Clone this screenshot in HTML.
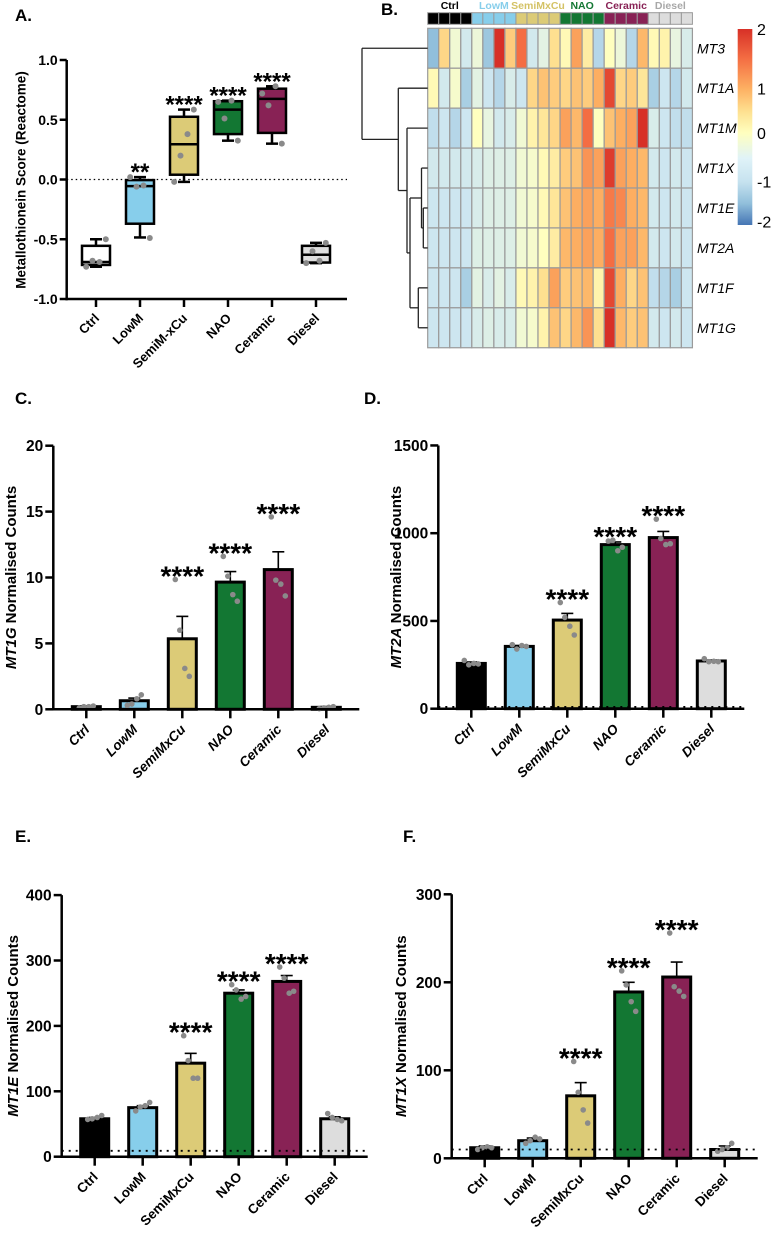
<!DOCTYPE html>
<html><head><meta charset="utf-8">
<style>
html,body{margin:0;padding:0;background:#fff;}
svg{display:block;font-family:"Liberation Sans",Arial,sans-serif;}
</style></head>
<body>
<svg id="fig" width="771" height="1238" viewBox="0 0 771 1238" xmlns="http://www.w3.org/2000/svg">
<defs>
<linearGradient id="cbar" x1="0" y1="0" x2="0" y2="1">
<stop offset="0%" stop-color="#d73027"/><stop offset="15%" stop-color="#f46d43"/><stop offset="30%" stop-color="#fdae61"/><stop offset="42%" stop-color="#fee090"/><stop offset="53%" stop-color="#ffffbf"/><stop offset="66%" stop-color="#e0f3f8"/><stop offset="78%" stop-color="#c6e2ef"/><stop offset="89%" stop-color="#91bfdb"/><stop offset="100%" stop-color="#4575b4"/>
</linearGradient>
</defs>
<g font-weight="bold" font-size="17">
<text x="15" y="21">A.</text>
<text x="381" y="15">B.</text>
<text x="15" y="404">C.</text>
<text x="364" y="404">D.</text>
<text x="15" y="842">E.</text>
<text x="403" y="842">F.</text>
</g>
</svg>
<script>
const groups = ['Ctrl','LowM','SemiMxCu','NAO','Ceramic','Diesel'];
const groupsA = ['Ctrl','LowM','SemiM-xCu','NAO','Ceramic','Diesel'];
const fills = ['#000000','#87ceeb','#dccb77','#137733','#882255','#dddddd'];
const fillsA = ['#ffffff','#87ceeb','#dccb77','#137733','#882255','#dddddd'];

// Panel A box data
const aTicks = [1.0, 0.5, 0.0, -0.5, -1.0];
const aTickLabels = ['1.0','0.5','0.0','-0.5','-1.0'];
const aMin = [-0.73, -0.485, -0.02, 0.325, 0.30, -0.70];
const aQ1 = [-0.715, -0.37, 0.04, 0.38, 0.39, -0.695];
const aMed = [-0.69, -0.055, 0.295, 0.585, 0.675, -0.63];
const aQ3 = [-0.555, -0.005, 0.525, 0.655, 0.76, -0.555];
const aMax = [-0.50, 0.02, 0.585, 0.66, 0.78, -0.53];
const aPoints = [[-0.73,-0.68,-0.69,-0.50],[0.02,-0.06,-0.05,-0.49],[-0.02,0.20,0.38,0.585],[0.65,0.51,0.66,0.325],[0.72,0.62,0.78,0.30],[-0.70,-0.60,-0.68,-0.53]];
const aStars = ['', '**', '****', '****', '****', ''];

// Heatmap
const genes = ['MT3','MT1A','MT1M','MT1X','MT1E','MT2A','MT1F','MT1G'];
const heat = [
[-1.5,0.6,-0.3,-0.9,-0.4,-1.4,2.0,0.7,1.5,-0.9,-0.6,0.5,0.1,1.1,0.3,-1.2,0.0,-0.4,-1.2,0.9,0.1,0.2,-0.5,-0.8],
[0.1,-0.9,-0.2,-1.3,-0.6,-1.0,-1.2,-0.8,-1.0,0.6,0.8,0.7,0.6,0.8,0.7,1.0,1.8,0.6,0.7,0.4,-1.3,-1.0,-1.2,-0.9],
[-1.1,-1.0,-1.2,-1.0,0.0,-0.5,-0.9,-0.8,-0.3,0.2,0.4,0.6,1.1,0.9,1.5,0.0,0.8,1.0,1.1,2.0,-0.8,-1.0,-1.1,-1.1],
[-0.9,-0.9,-0.9,-0.9,-0.8,-0.7,-0.7,-0.7,-0.3,-0.2,0.1,0.3,0.7,0.8,1.2,1.1,1.9,1.1,1.0,0.9,-0.9,-1.0,-0.9,-1.0],
[-1.0,-1.0,-1.0,-1.0,-0.8,-0.7,-0.7,-0.7,-0.3,-0.2,0.1,0.4,0.8,1.0,1.1,1.0,1.4,1.3,1.0,0.9,-0.9,-1.0,-0.9,-1.0],
[-1.0,-1.0,-1.0,-1.0,-0.7,-0.7,-0.7,-0.7,-0.3,-0.2,0.0,0.3,0.9,1.0,1.1,1.0,1.5,1.1,1.1,0.9,-0.9,-1.0,-0.9,-1.0],
[-1.0,-1.0,-1.0,-1.3,-0.6,-0.8,-0.6,-0.8,0.1,0.2,0.5,1.1,0.7,0.8,0.9,0.2,1.8,1.0,0.6,0.8,-1.1,-1.2,-1.3,-1.0],
[-1.0,-1.0,-1.0,-1.0,-0.8,-0.7,-0.8,-0.8,-0.3,-0.2,0.2,0.8,0.6,0.9,1.2,0.5,2.0,0.9,0.7,0.8,-0.9,-1.0,-0.9,-1.0]];
const groupLabelColors = ['#000000','#87ceeb','#d4c265','#137733','#882255','#a8a8a8'];
const cbarLabels = ['2','1','0','-1','-2'];

// Bar panels
const cMeans = [0.2, 0.65, 5.35, 9.65, 10.6, 0.15];
const cSem = [0.05, 0.2, 1.7, 0.8, 1.35, 0.05];
const cPoints = [[0.1,0.2,0.2,0.25],[0.3,0.4,0.8,1.1],[9.85,6.0,3.1,2.5],[11.6,10.1,8.7,8.2],[14.6,9.8,9.5,8.6],[0.05,0.1,0.15,0.2]];
const cTicks = [0,5,10,15,20];
const dMeans = [258, 355, 505, 935, 975, 272];
const dSem = [8, 5, 38, 15, 35, 5];
const dPoints = [[275,250,258,255],[365,340,360,355],[605,520,470,420],[955,960,900,920],[1080,970,935,940],[285,268,270,268]];
const dTicks = [0,500,1000,1500];
const eMeans = [58, 75, 143, 250, 268, 58];
const eSem = [2, 3, 15, 5, 9, 3];
const ePoints = [[57,58,60,63],[70,76,78,83],[185,147,120,120],[263,255,241,245],[290,273,250,253],[66,60,57,55]];
const eTicks = [0,100,200,300,400];
const fMeans = [12, 20, 71, 189, 206, 10];
const fSem = [2, 3, 15, 11, 17, 4];
const fPoints = [[10,12,13,12],[17,20,24,22],[110,75,55,40],[213,197,178,167],[256,195,190,184],[8,10,12,17]];
const fTicks = [0,100,200,300];
const starsBar = [false,false,true,true,true,false];

const svg = document.getElementById('fig');
const NS = 'http://www.w3.org/2000/svg';
function mk(tag, attrs, parent){
  const el = document.createElementNS(NS, tag);
  for (const k in attrs) el.setAttribute(k, attrs[k]);
  (parent||svg).appendChild(el);
  return el;
}
const jit = [-7,-2.5,2.5,7];

/* ---------- Panel A ---------- */
(function(){
  const ax = 66.7, yTop = 60, yBot = 299, xEnd = 347;
  const y = v => yTop + (1 - v) / 2 * (yBot - yTop);
  const xc = i => 96 + 44 * i;
  const g = mk('g', {});
  
  
  let l = mk('line', {x1: ax, x2: xEnd, y1: y(0), y2: y(0), stroke: '#000', 'stroke-width': 1.3, 'stroke-dasharray': '1.5 3'}, g);
  
  
  for (let i = 0; i < 6; i++) {
    const cx = xc(i), w = 28;
    const wt = mk('line', {x1: cx, x2: cx, y1: y(aMax[i]), y2: y(aMin[i]), stroke: '#000', 'stroke-width': 2.5}, g);
    
    
    [aMax[i], aMin[i]].forEach(v => {
      const c = mk('line', {x1: cx - 6, x2: cx + 6, y1: y(v), y2: y(v), stroke: '#000', 'stroke-width': 2.5}, g);
      
      
    });
    const b = mk('rect', {x: cx - w/2, y: y(aQ3[i]), width: w, height: y(aQ1[i]) - y(aQ3[i]), fill: fillsA[i], stroke: '#000', 'stroke-width': 2.5}, g);
    
    
    const m = mk('line', {x1: cx - w/2, x2: cx + w/2, y1: y(aMed[i]), y2: y(aMed[i]), stroke: '#000', 'stroke-width': 2.5}, g);
    
    
    aPoints[i].forEach((v, k) => {
      const p = mk('circle', {cx: cx + jit[k] * 1.4, cy: y(v), r: 3, fill: '#8a8a8a'}, g);
      
      
    });
    if (aStars[i]) {
      const s = mk('text', {x: cx, y: y(aMax[i]) + 3, 'text-anchor': 'middle', 'font-size': 24, 'font-weight': 'bold'}, g);
      s.textContent = aStars[i];
      
      
    }
    const tk = mk('line', {x1: cx, x2: cx, y1: yBot, y2: yBot + 8, stroke: '#000', 'stroke-width': 2.5}, g);
    
    
    const lb = mk('text', {x: cx + 4, y: yBot + 20, 'text-anchor': 'end', 'font-size': 13, 'font-weight': 'bold', transform: `rotate(-45 ${cx + 4} ${yBot + 20})`}, g);
    lb.textContent = groupsA[i];
    
    
  }
  const ya = mk('line', {x1: ax, x2: ax, y1: yTop, y2: yBot + 1.2, stroke: '#000', 'stroke-width': 2.5}, g);
  
  
  const xa = mk('line', {x1: ax - 1.2, x2: xEnd, y1: yBot, y2: yBot, stroke: '#000', 'stroke-width': 2.5}, g);
  
  
  aTicks.forEach((v, k) => {
    const t = mk('line', {x1: ax - 7, x2: ax, y1: y(v), y2: y(v), stroke: '#000', 'stroke-width': 2.5}, g);
    
    
    const tl = mk('text', {x: ax - 9, y: y(v) + 5, 'text-anchor': 'end', 'font-size': 14, 'font-weight': 'bold'}, g);
    tl.textContent = aTickLabels[k];
    
    
  });
  const tt = mk('text', {x: 22, y: 180, 'text-anchor': 'middle', 'font-size': 13.5, 'font-weight': 'bold', 'dominant-baseline': 'middle', transform: 'rotate(-90 22 180)'}, g);
  tt.textContent = 'Metallothionein Score (Reactome)';
  
  
})();

/* ---------- Panel B heatmap ---------- */
(function(){
  const x0 = 427.7, cw = 11.03, y0 = 28.3, rh = 39.93;
  const stops = [[-2,[69,117,180]],[-1.5,[145,191,219]],[-1,[205,230,240]],[-0.5,[232,245,224]],[0,[255,255,191]],[0.5,[254,224,144]],[1,[253,174,97]],[1.5,[244,109,67]],[2,[215,48,39]]];
  function col(v){
    v = Math.max(-2, Math.min(2, v));
    for (let k = 0; k < stops.length - 1; k++) {
      const a = stops[k], b = stops[k+1];
      if (v <= b[0]) {
        const t = (v - a[0]) / (b[0] - a[0]);
        return 'rgb(' + a[1].map((c, j) => Math.round(c + t * (b[1][j] - c))).join(',') + ')';
      }
    }
    return 'rgb(215,48,39)';
  }
  const g = mk('g', {});
  
  
  for (let c = 0; c < 24; c++) {
    const gi = Math.floor(c / 4);
    const r = mk('rect', {x: x0 + c * cw, y: 12.7, width: cw, height: 11.6, fill: fills[gi], stroke: '#999', 'stroke-width': 1}, g);
    
    
  }
  groups.forEach((gn, gi) => {
    const t = mk('text', {x: x0 + (4 * gi + 2) * cw, y: 9, 'text-anchor': 'middle', 'font-size': 10.5, 'font-weight': 'bold', fill: groupLabelColors[gi]}, g);
    t.textContent = gn;
    
    
  });
  heat.forEach((row, ri) => {
    row.forEach((v, c) => {
      const r = mk('rect', {x: x0 + c * cw, y: y0 + ri * rh, width: cw, height: rh, fill: col(v), stroke: '#9a9a9a', 'stroke-width': 1.2}, g);
      
      
    });
    const t = mk('text', {x: 697, y: y0 + ri * rh + rh / 2 + 5, 'font-size': 14, 'font-style': 'italic'}, g);
    t.textContent = genes[ri];
    
    
  });
  const ly = i => y0 + i * rh + rh / 2;
  function seg(x1, y1, x2, y2){
    const l = mk('line', {x1, y1, x2, y2, stroke: '#222', 'stroke-width': 1.3}, g);
    
    
  }
  function join(x, ya, xa, yb, xb){ seg(x, ya, x, yb); seg(x, ya, xa, ya); seg(x, yb, xb, yb); return (ya + yb) / 2; }
  const e2a = join(423.3, ly(4), x0, ly(5), x0);
  const xe = join(421.5, ly(3), x0, e2a, 423.3);
  const fg = join(418.3, ly(6), x0, ly(7), x0);
  const lower = join(410, xe, 421.5, fg, 418.3);
  const m = join(407, ly(2), x0, lower, 410);
  const a = join(398.3, ly(1), x0, m, 407);
  join(362, ly(0), x0, a, 398.3);
  const cb = mk('rect', {x: 737.7, y: 29, width: 14.6, height: 196, fill: 'url(#cbar)'}, g);
  
  
  const cby = [29, 88.3, 133, 181.7, 221.7];
  cbarLabels.forEach((s, k) => {
    const t = mk('text', {x: 757, y: cby[k] + 6, 'font-size': 16}, g);
    t.textContent = s;
    
    
  });
})();

/* ---------- Bar panels ---------- */
function barPanel(cfg){
  const g = mk('g', {});
  
  
  const ax = cfg.ax, y0 = cfg.y0, ppu = cfg.ppu;
  const y = v => y0 - v * ppu;
  const xc = i => ax + 33 + 48 * i;
  const yTopAxis = y(cfg.ticks[cfg.ticks.length - 1]);
  for (let i = 0; i < 6; i++) {
    const cx = xc(i), w = 28;
    const mean = cfg.means[i], se = cfg.sem[i];
    const eb = mk('line', {x1: cx, x2: cx, y1: y(mean), y2: y(mean + se), stroke: '#000', 'stroke-width': 1.6}, g);
    
    
    const ec = mk('line', {x1: cx - 6, x2: cx + 6, y1: y(mean + se), y2: y(mean + se), stroke: '#000', 'stroke-width': 1.6}, g);
    
    
    const b = mk('rect', {x: cx - w/2, y: y(mean), width: w, height: y0 - y(mean), fill: fills[i], stroke: '#000', 'stroke-width': 3}, g);
    
    
    cfg.pts[i].forEach((v, k) => {
      const p = mk('circle', {cx: cx + jit[k], cy: y(v), r: 2.8, fill: '#8a8a8a'}, g);
      
      
    });
    if (starsBar[i]) {
      const top = Math.max.apply(null, cfg.pts[i].concat([mean + se]));
      const s = mk('text', {x: cx, y: y(top) - 10 + 16, 'text-anchor': 'middle', 'font-size': 28, 'font-weight': 'bold'}, g);
      s.textContent = '****';
      
      
    }
    const tk = mk('line', {x1: cx, x2: cx, y1: y0, y2: y0 + 9, stroke: '#000', 'stroke-width': 2.5}, g);
    
    
    const lb = mk('text', {x: cx + 4, y: y0 + 21, 'text-anchor': 'end', 'font-size': 13.5, 'font-weight': 'bold', 'font-style': cfg.italic ? 'italic' : 'normal', transform: `rotate(-45 ${cx + 4} ${y0 + 21})`}, g);
    lb.textContent = groups[i];
    
    
  }
  if (cfg.dotted !== null) {
    const d = mk('line', {x1: ax, x2: ax + 306, y1: y(cfg.dotted), y2: y(cfg.dotted), stroke: '#000', 'stroke-width': 1.8, 'stroke-dasharray': '2 5'}, g);
    
    
  }
  const ya = mk('line', {x1: ax, x2: ax, y1: yTopAxis, y2: y0 + 1.2, stroke: '#000', 'stroke-width': 2.5}, g);
  
  
  const xa = mk('line', {x1: ax - 1.2, x2: ax + 306, y1: y0, y2: y0, stroke: '#000', 'stroke-width': 2.5}, g);
  
  
  cfg.ticks.forEach(v => {
    const t = mk('line', {x1: ax - 8, x2: ax, y1: y(v), y2: y(v), stroke: '#000', 'stroke-width': 2.5}, g);
    
    
    const tl = mk('text', {x: ax - 10, y: y(v) + 5.5, 'text-anchor': 'end', 'font-size': 15.5, 'font-weight': 'bold'}, g);
    tl.textContent = String(v);
    
    
  });
  const cyT = (yTopAxis + y0) / 2;
  const tt = mk('text', {x: cfg.tx, y: cyT, 'text-anchor': 'middle', 'font-size': 15, 'font-weight': 'bold', 'dominant-baseline': 'middle', transform: `rotate(-90 ${cfg.tx} ${cyT})`}, g);
  const ts = mk('tspan', {'font-style': 'italic'}, tt);
  ts.textContent = cfg.gene;
  const ts2 = mk('tspan', {}, tt);
  ts2.textContent = ' Normalised Counts';
  
  
}
barPanel({name: 'panel-c-mt1g', ax: 53.3, y0: 709.3, ppu: 13.18, ticks: cTicks, means: cMeans, sem: cSem, pts: cPoints, dotted: null, italic: true, gene: 'MT1G', tx: 12});
barPanel({name: 'panel-d-mt2a', ax: 438.3, y0: 708.7, ppu: 0.1755, ticks: dTicks, means: dMeans, sem: dSem, pts: dPoints, dotted: 10, italic: true, gene: 'MT2A', tx: 397});
barPanel({name: 'panel-e-mt1e', ax: 61.7, y0: 1156.7, ppu: 0.654, ticks: eTicks, means: eMeans, sem: eSem, pts: ePoints, dotted: 9, italic: false, gene: 'MT1E', tx: 14});
barPanel({name: 'panel-f-mt1x', ax: 451.7, y0: 1158.3, ppu: 0.88, ticks: fTicks, means: fMeans, sem: fSem, pts: fPoints, dotted: 10, italic: false, gene: 'MT1X', tx: 402});
</script>
</body></html>
